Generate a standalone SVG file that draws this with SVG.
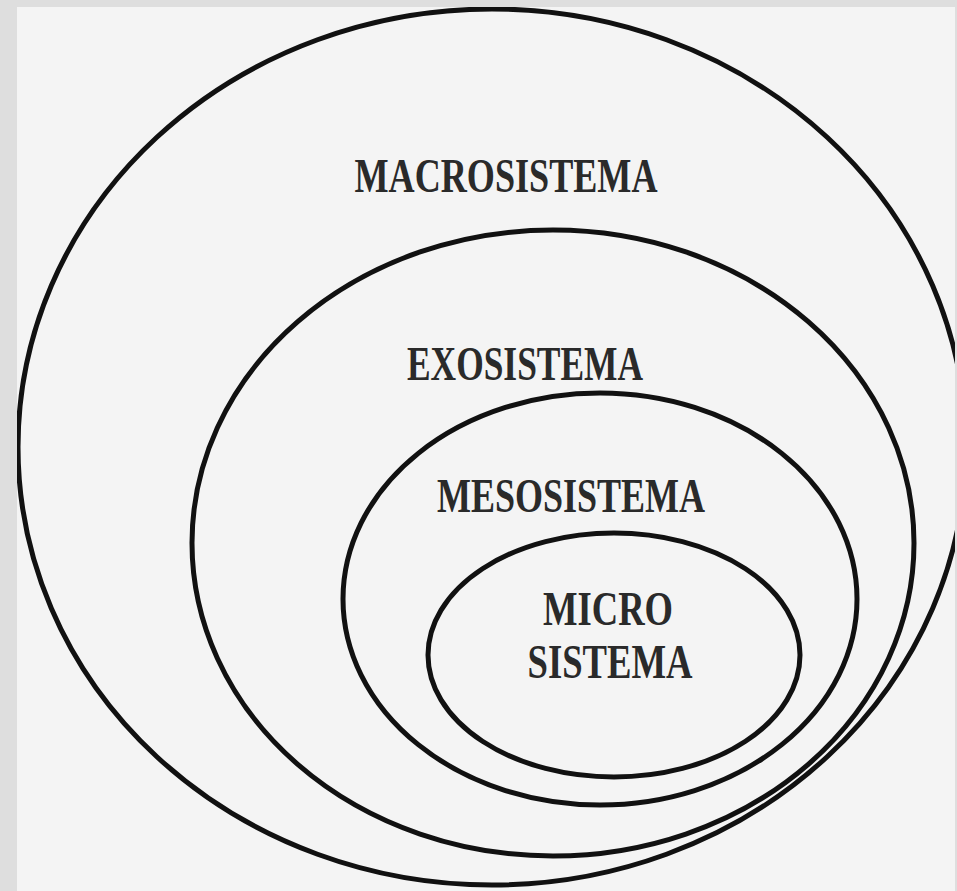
<svg xmlns="http://www.w3.org/2000/svg" width="957" height="891" viewBox="0 0 957 891">
<defs>
<clipPath id="frame"><rect x="17" y="7" width="938" height="884"/></clipPath>
</defs>
<style>
.ring{fill:none;stroke:#111;stroke-width:5}
.lbl{font-family:"Liberation Serif","Times New Roman",serif;font-weight:bold;font-size:48px;fill:#2a2a2a;text-anchor:middle}
</style>
<rect x="0" y="0" width="957" height="891" fill="#dedede"/>
<rect x="17" y="7" width="938" height="884" fill="#f4f4f4"/>
<g id="macrosistema">
<ellipse class="ring" cx="492" cy="447" rx="474" ry="438" clip-path="url(#frame)"/>
<text class="lbl" x="506" y="192" textLength="303" lengthAdjust="spacingAndGlyphs">MACROSISTEMA</text>
</g>
<g id="exosistema">
<ellipse class="ring" cx="553" cy="543" rx="361" ry="313"/>
<text class="lbl" x="525" y="380" textLength="236" lengthAdjust="spacingAndGlyphs">EXOSISTEMA</text>
</g>
<g id="mesosistema">
<ellipse class="ring" cx="600" cy="599" rx="257" ry="206"/>
<text class="lbl" x="571" y="512" textLength="268" lengthAdjust="spacingAndGlyphs">MESOSISTEMA</text>
</g>
<g id="microsistema">
<ellipse class="ring" cx="614" cy="655" rx="186" ry="122"/>
<text class="lbl" x="608" y="625" textLength="130" lengthAdjust="spacingAndGlyphs">MICRO</text>
<text class="lbl" x="610" y="678" textLength="165" lengthAdjust="spacingAndGlyphs">SISTEMA</text>
</g>
<g id="connectors"></g>
</svg>
